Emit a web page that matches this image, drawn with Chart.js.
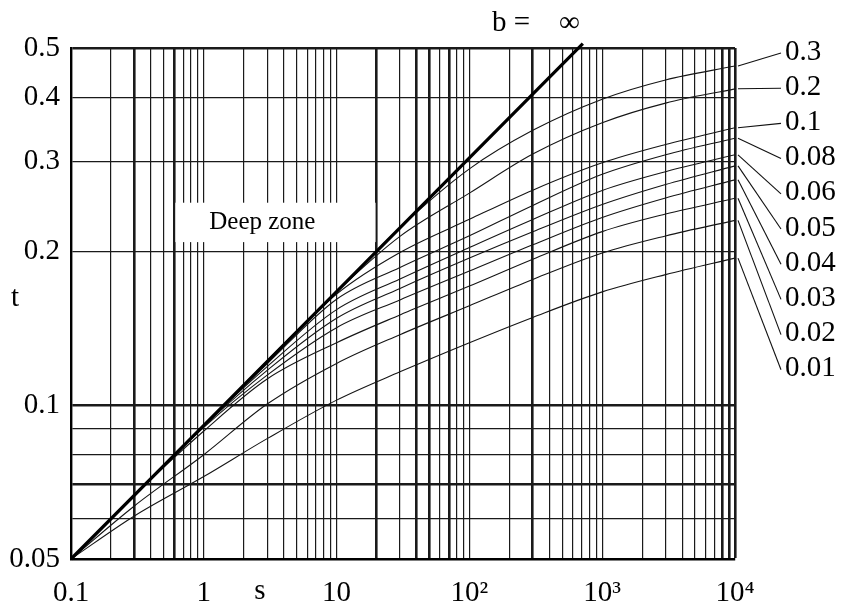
<!DOCTYPE html>
<html>
<head>
<meta charset="utf-8">
<script src="https://cdn.jsdelivr.net/npm/chart.js@4.4.0/dist/chart.umd.min.js"></script>
<style>
  html, body { margin: 0; padding: 0; background: #fff; }
  #wrap { width: 847px; height: 612px; }
</style>
</head>
<body>
<div id="wrap"><canvas id="chart"></canvas></div>
<script>
const sValues = [0.1, 0.3, 1, 3, 10, 30, 100, 300, 1000, 3000, 10000];

// b = infinity (deep zone boundary)
const sInf = [0.1, 1, 10, 100, 715];
const tInf = [0.05, 0.0913, 0.1668, 0.3046, 0.51];

// finite b curves, top to bottom
const bLabels = ['0.3', '0.2', '0.1', '0.08', '0.06', '0.05', '0.04', '0.03', '0.02', '0.01'];
const tB030 = [0.05, 0.0667, 0.0913, 0.122, 0.1668, 0.2226, 0.290, 0.345, 0.397, 0.433, 0.461];
const tB020 = [0.05, 0.0667, 0.0913, 0.122, 0.1668, 0.214, 0.260, 0.310, 0.357, 0.390, 0.416];
const tB010 = [0.05, 0.0667, 0.0913, 0.122, 0.165, 0.199, 0.231, 0.2635, 0.298, 0.3236, 0.349];
const tB008 = [0.05, 0.0667, 0.0913, 0.1205, 0.1612, 0.186, 0.2145, 0.246, 0.283, 0.309, 0.333];
const tB006 = [0.05, 0.0667, 0.0913, 0.119, 0.1538, 0.1766, 0.2035, 0.2309, 0.2632, 0.2864, 0.309];
const tB005 = [0.05, 0.0667, 0.091, 0.117, 0.148, 0.1692, 0.194, 0.2184, 0.247, 0.2703, 0.294];
const tB004 = [0.05, 0.0667, 0.0905, 0.1145, 0.1418, 0.1607, 0.183, 0.206, 0.233, 0.2544, 0.276];
const tB003 = [0.05, 0.0667, 0.089, 0.1125, 0.1325, 0.1502, 0.171, 0.193, 0.2186, 0.2366, 0.254];
const tB002 = [0.05, 0.0635, 0.080, 0.1005, 0.1207, 0.1374, 0.1565, 0.1762, 0.1985, 0.2144, 0.230];
const tB001 = [0.05, 0.0607, 0.0725, 0.086, 0.1023, 0.1162, 0.1325, 0.1485, 0.1666, 0.1801, 0.194];
const bSeries = [tB030, tB020, tB010, tB008, tB006, tB005, tB004, tB003, tB002, tB001];

// axes
const xMajor = [0.1, 1, 10, 100, 1000, 10000];
const xTickLabels = ['0.1', '1', '10', '10\u00B2', '10\u00B3', '10\u2074'];
const yMajor = [0.05, 0.1, 0.2, 0.3, 0.4, 0.5];
const yTickLabels = ['0.05', '0.1', '0.2', '0.3', '0.4', '0.5'];
const yGrid = [0.05, 0.06, 0.07, 0.08, 0.09, 0.1, 0.2, 0.3, 0.4, 0.5];
const xThick = [0.3, 0.6, 20, 40, 50, 70, 300, 8000, 9000, 10000];
const yThick = [0.07, 0.1, 0.5];

const xGrid = [];
for (let e = -1; e < 4; e++) {
  for (let m = 1; m < 10; m++) xGrid.push(+(m * Math.pow(10, e)).toPrecision(6));
}
xGrid.push(10000);

const FONT = 'Liberation Serif, Times New Roman, serif';
const LABEL_PX = 29;

const datasets = [{
  data: sInf.map((s, i) => ({ x: s, y: tInf[i] })),
  borderColor: '#000', borderWidth: 3.2, showLine: true, pointRadius: 0,
  clip: { left: 4, top: 8, right: 0, bottom: 4 }
}];
bSeries.forEach((ts, k) => {
  datasets.push({
    label: bLabels[k],
    data: sValues.map((s, i) => ({ x: s, y: ts[i] })),
    borderColor: '#151515', borderWidth: 1.1, showLine: true, pointRadius: 0,
    cubicInterpolationMode: 'monotone'
  });
});

const annotations = {
  id: 'annotations',
  beforeDatasetsDraw(chart) {
    const { ctx, scales: { x, y } } = chart;
    // white box of "Deep zone"
    const x0 = x.getPixelForValue(0.6), x1 = x.getPixelForValue(20);
    const y0 = y.getPixelForValue(0.249), y1 = y.getPixelForValue(0.2085);
    ctx.save();
    ctx.fillStyle = '#fff';
    ctx.fillRect(x0 + 1, y0, x1 - x0 - 2, y1 - y0);
    ctx.fillStyle = '#000';
    ctx.font = '25px ' + FONT;
    ctx.textAlign = 'center';
    ctx.textBaseline = 'middle';
    ctx.fillText('Deep zone', x0 + 88, (y0 + y1) / 2);
    ctx.restore();
  },
  afterDatasetsDraw(chart) {
    const { ctx, chartArea: a, scales: { x, y } } = chart;
    ctx.save();
    ctx.font = LABEL_PX + 'px ' + FONT;
    ctx.fillStyle = '#000';
    ctx.strokeStyle = '#111';
    ctx.lineWidth = 1.1;
    ctx.textBaseline = 'middle';
    ctx.textAlign = 'left';
    const xEnd = x.getPixelForValue(sValues[sValues.length - 1]);
    bSeries.forEach((ts, k) => {
      const yEnd = y.getPixelForValue(ts[ts.length - 1]);
      const ly = a.top + 4 + k * 35.2;
      ctx.beginPath();
      ctx.moveTo(xEnd + 3, yEnd);
      ctx.lineTo(a.right + 46, ly + 1);
      ctx.stroke();
      ctx.fillText(bLabels[k], a.right + 50, ly);
    });
    // b = infinity
    ctx.textBaseline = 'alphabetic';
    ctx.fillText('b =', 492, 31);
    ctx.fillText('\u221E', 559, 31);
    // axis names
    ctx.textAlign = 'center';
    ctx.fillText('s', 260, 599);
    ctx.textBaseline = 'middle';
    ctx.fillText('t', 15, 298);
    ctx.restore();
  }
};

new Chart(document.getElementById('chart'), {
  type: 'scatter',
  data: { datasets },
  options: {
    responsive: true,
    maintainAspectRatio: false,
    animation: false,
    devicePixelRatio: 1,
    layout: { padding: { left: 0, top: 48, right: 112, bottom: 0 } },
    plugins: { legend: { display: false }, tooltip: { enabled: false } },
    scales: {
      x: {
        type: 'logarithmic', min: 0.1, max: 10000,
        afterBuildTicks: s => { s.ticks = xGrid.map(v => ({ value: v })); },
        afterFit: s => { s.height = 53; },
        ticks: {
          autoSkip: false, maxRotation: 0, padding: 17, color: '#000',
          font: { family: FONT, size: LABEL_PX },
          callback: v => { const i = xMajor.indexOf(v); return i >= 0 ? xTickLabels[i] : ''; }
        },
        grid: {
          drawTicks: false, color: '#1a1a1a',
          lineWidth: c => (c.tick && xThick.includes(c.tick.value)) ? 2.6 : 1.2
        },
        border: { display: true, color: '#000', width: 2.4 }
      },
      y: {
        type: 'logarithmic', min: 0.05, max: 0.5,
        afterBuildTicks: s => { s.ticks = yGrid.map(v => ({ value: v })); },
        afterFit: s => { s.width = 71; },
        ticks: {
          autoSkip: false, padding: 11, color: '#000',
          font: { family: FONT, size: LABEL_PX },
          callback: v => { const i = yMajor.indexOf(v); return i >= 0 ? yTickLabels[i] : ''; }
        },
        grid: {
          drawTicks: false, color: '#1a1a1a',
          lineWidth: c => (c.tick && yThick.includes(c.tick.value)) ? 2.6 : 1.2
        },
        border: { display: true, color: '#000', width: 2.4 }
      }
    }
  },
  plugins: [annotations]
});
</script>
</body>
</html>
